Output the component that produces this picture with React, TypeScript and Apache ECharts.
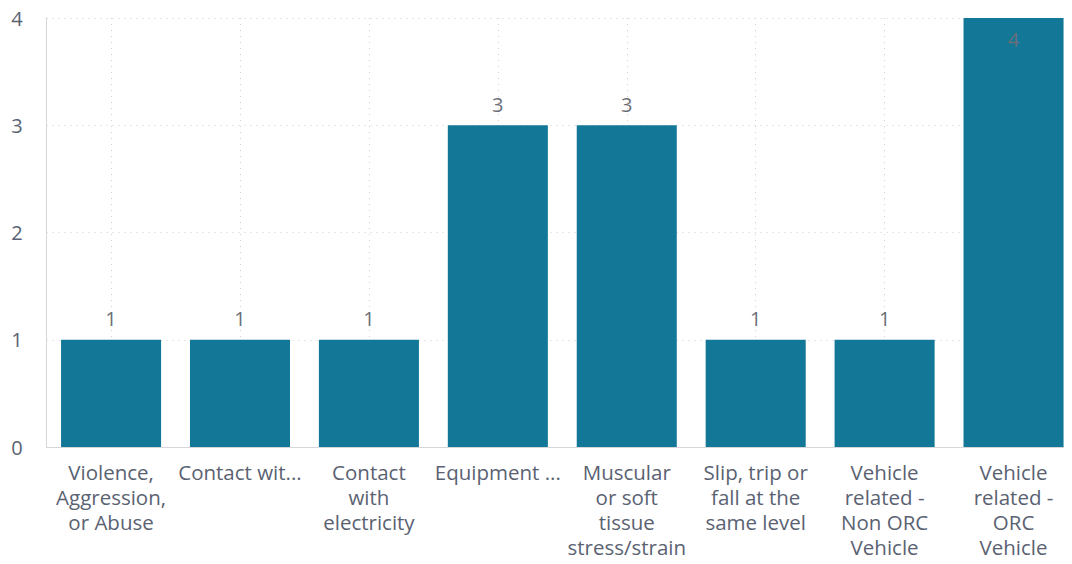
import React, { useEffect, useRef } from "react";
import * as echarts from "echarts";

const categories = [
  "Violence,\nAggression,\nor Abuse",
  "Contact wit...",
  "Contact\nwith\nelectricity",
  "Equipment ...",
  "Muscular\nor soft\ntissue\nstress/strain",
  "Slip, trip or\nfall at the\nsame level",
  "Vehicle\nrelated -\nNon ORC\nVehicle",
  "Vehicle\nrelated -\nORC\nVehicle",
];
const values = [1, 1, 1, 3, 3, 1, 1, 4];
const yTicks = [0, 1, 2, 3, 4];

const FONT = "'Open Sans', 'Noto Sans', sans-serif";

export default function App() {
  const ref = useRef<HTMLDivElement>(null);
  useEffect(() => {
    if (!ref.current) return;
    const chart = echarts.init(ref.current, undefined, { renderer: "svg" });
    chart.setOption({
      animation: false,
      grid: { left: 46.6, right: 6, top: 18, bottom: 117, containLabel: false },
      xAxis: {
        type: "category",
        data: categories,
        axisLine: { show: true, lineStyle: { color: "#d4d6da", width: 1 } },
        axisTick: { show: false },
        axisLabel: {
          interval: 0,
          color: "#5a6272",
          fontFamily: FONT,
          fontSize: 20.5,
          lineHeight: 25,
          margin: 12,
        },
        splitLine: {
          show: true,
          alignWithLabel: true,
          lineStyle: { color: "#d0d0d0", type: [1, 5], width: 1 },
        },
      },
      yAxis: {
        type: "value",
        min: yTicks[0],
        max: yTicks[yTicks.length - 1],
        interval: 1,
        axisLine: { show: true, lineStyle: { color: "#d4d6da", width: 1 } },
        axisTick: { show: false },
        axisLabel: {
          color: "#5a6272",
          fontFamily: FONT,
          fontSize: 20,
          margin: 24,
        },
        splitLine: {
          show: true,
          lineStyle: { color: "#d0d0d0", type: [1, 5], width: 1 },
        },
      },
      series: [
        {
          type: "bar",
          data: values.map((v, i) =>
            i === values.length - 1
              ? { value: v, label: { position: "insideTop", distance: 11 } }
              : v
          ),
          barCategoryGap: "22.4%",
          itemStyle: { color: "#137898" },
          label: {
            show: true,
            position: "top",
            distance: 11,
            color: "#6b6f78",
            fontFamily: FONT,
            fontSize: 20,
          },
        },
      ],
    });
    return () => chart.dispose();
  }, []);
  return (
    <div style={{ width: 1072, height: 564, margin: -8, overflow: "hidden", position: "relative" }}>
      <div ref={ref} style={{ width: 1084, height: 564 }} />
    </div>
  );
}
